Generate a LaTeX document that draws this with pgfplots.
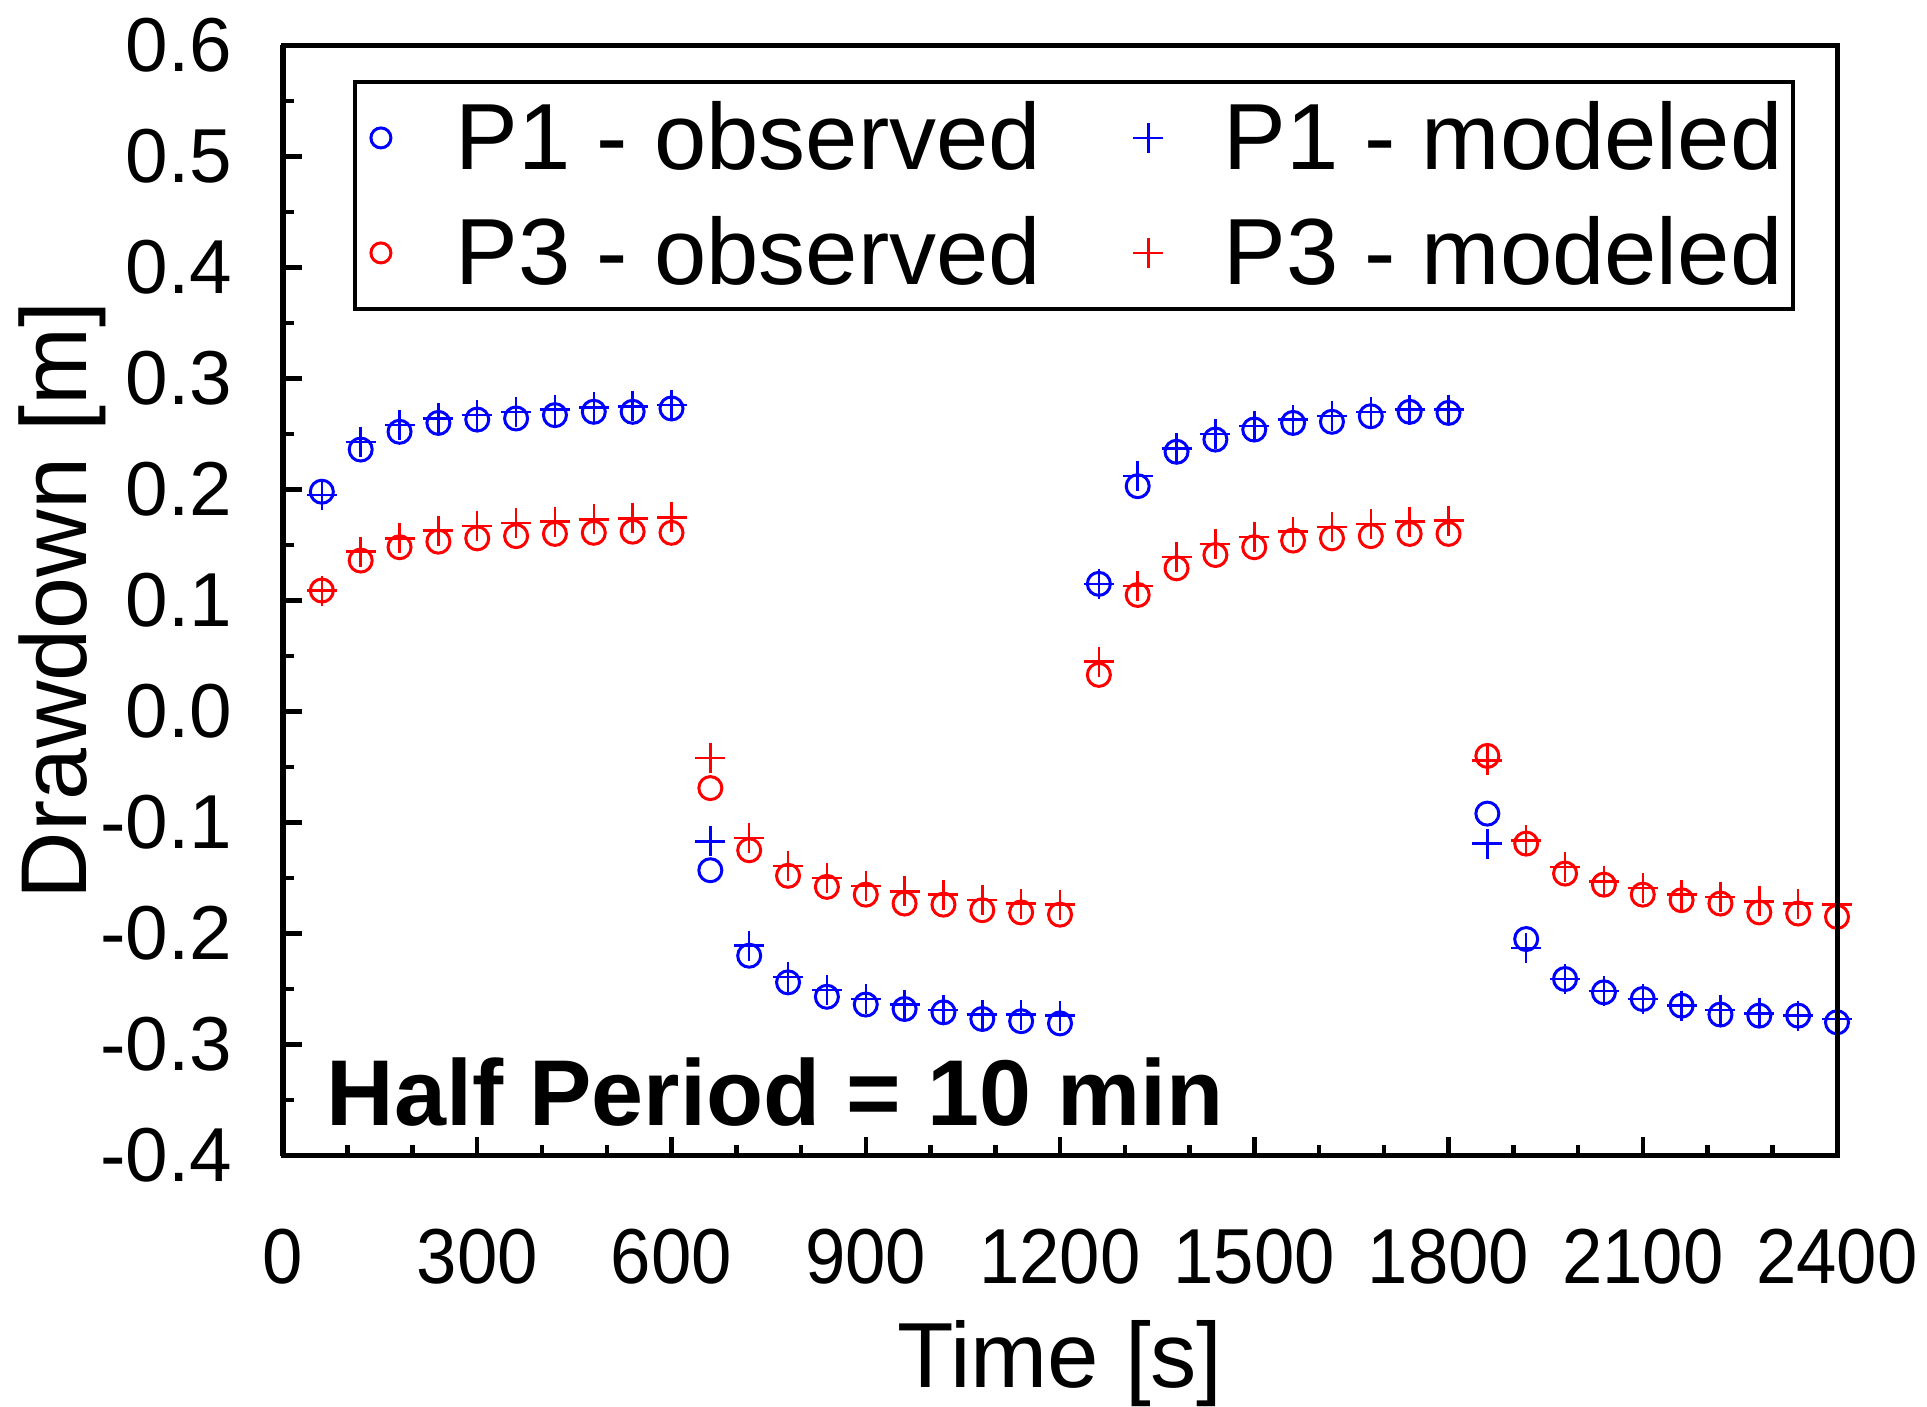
\documentclass[border=0pt]{standalone}
\usepackage{graphicx}
\usepackage{fontspec}
\setmainfont{Liberation Sans}
\usepackage{pgfplots}
\usepackage{pgfplotstable}
\pgfplotsset{compat=1.18}

\pgfplotstableread{
t p1o p1m p3o p3m
60 0.198 0.195 0.109 0.109
120 0.236 0.243 0.136 0.144
180 0.252 0.258 0.148 0.156
240 0.260 0.264 0.153 0.163
300 0.263 0.267 0.156 0.167
360 0.264 0.270 0.158 0.170
420 0.267 0.272 0.160 0.171
480 0.270 0.274 0.161 0.173
540 0.270 0.275 0.162 0.174
600 0.273 0.276 0.161 0.175
660 -0.143 -0.117 -0.069 -0.042
720 -0.220 -0.211 -0.125 -0.114
780 -0.244 -0.239 -0.148 -0.139
840 -0.257 -0.251 -0.158 -0.150
900 -0.264 -0.259 -0.165 -0.157
960 -0.268 -0.264 -0.173 -0.162
1020 -0.271 -0.269 -0.174 -0.165
1080 -0.277 -0.273 -0.179 -0.170
1140 -0.279 -0.273 -0.181 -0.173
1200 -0.281 -0.274 -0.183 -0.174
1260 0.115 0.115 0.033 0.045
1320 0.203 0.212 0.105 0.113
1380 0.234 0.237 0.129 0.139
1440 0.245 0.250 0.141 0.151
1500 0.254 0.257 0.148 0.157
1560 0.260 0.263 0.154 0.162
1620 0.261 0.266 0.156 0.166
1680 0.266 0.270 0.158 0.169
1740 0.270 0.272 0.160 0.171
1800 0.269 0.272 0.160 0.172
1860 -0.092 -0.119 -0.040 -0.044
1920 -0.205 -0.213 -0.119 -0.116
1980 -0.241 -0.241 -0.146 -0.140
2040 -0.253 -0.252 -0.156 -0.153
2100 -0.259 -0.259 -0.165 -0.159
2160 -0.265 -0.265 -0.170 -0.165
2220 -0.273 -0.269 -0.173 -0.167
2280 -0.274 -0.272 -0.181 -0.171
2340 -0.274 -0.274 -0.182 -0.173
2400 -0.280 -0.277 -0.185 -0.174
}\datatable

\newcommand{\xl}[1]{\scalebox{0.93}[1]{#1}}

\begin{document}
\begin{tikzpicture}
\begin{axis}[
  name=ax,
  scale only axis,
  width=310.8pt, height=222pt,
  xmin=0, xmax=2400, ymin=-0.4, ymax=0.6,
  clip=false,
  axis line style={line width=1pt},
  axis x line*=bottom, axis y line*=left,
  every outer x axis line/.append style={-},
  every outer y axis line/.append style={-},
  separate axis lines,
  tick align=inside,
  tick style={line width=0.9pt, black},
  major tick length=3.7pt, minor tick length=2.2pt,
  xtick={0,300,...,2400},
  xticklabels={\xl{0},\xl{300},\xl{600},\xl{900},\xl{1200},\xl{1500},\xl{1800},\xl{2100},\xl{2400}},
  minor x tick num=2,
  ytick={-0.4,-0.3,...,0.61},
  yticklabels={-0.4,-0.3,-0.2,-0.1,0.0,0.1,0.2,0.3,0.4,0.5,0.6},
  minor y tick num=1,
  xticklabel style={font=\fontsize{15.6}{18}\selectfont, anchor=base, yshift=-25.6pt},
  yticklabel style={font=\fontsize{15.3}{18}\selectfont, anchor=east, xshift=-6.7pt},
  xlabel={Time [s]},
  ylabel={Drawdown [m]},
  every axis x label/.style={at={(axis description cs:0.5,-0.209)}, anchor=base, font=\fontsize{18.5}{22}\selectfont},
  every axis y label/.style={at={(axis description cs:-0.142,0.5)}, rotate=90, anchor=center, font=\fontsize{18.7}{22}\selectfont},
  legend columns=2,
  legend style={
    at={(axis description cs:0.045,0.969)}, anchor=north west,
    draw=black, line width=0.8pt,
    font=\fontsize{18.8}{22}\selectfont,
    column sep=0pt,
    row sep=7.8pt,
    nodes={inner xsep=0pt, inner ysep=0pt, text height=14pt, text depth=1.2pt},
    /tikz/every even column/.append style={column sep=18.2pt},
    inner xsep=2.2pt, inner ysep=3.6pt,
  },
  legend cell align=left,
]
\addplot[only marks, blue, mark=o, mark size=2.3pt, mark options={line width=0.6pt},
  legend image code/.code={\path[draw=none,fill=none] (0pt,0) -- (18pt,0); \draw[blue, line width=0.6pt] (3pt,0) circle (2pt);}]
  table[x=t, y=p1o] {\datatable};
\addlegendentry{P1 - observed}
\addplot[only marks, blue, mark=+, mark size=3pt, mark options={line width=0.5pt},
  legend image code/.code={\path[draw=none,fill=none] (0pt,0) -- (18pt,0); \draw[blue, line width=0.5pt] (0pt,0) -- (6pt,0) (3pt,-3pt) -- (3pt,3pt);}]
  table[x=t, y=p1m] {\datatable};
\addlegendentry{P1 - modeled}
\addplot[only marks, red, mark=o, mark size=2.3pt, mark options={line width=0.6pt},
  legend image code/.code={\path[draw=none,fill=none] (0pt,0) -- (18pt,0); \draw[red, line width=0.6pt] (3pt,0) circle (2pt);}]
  table[x=t, y=p3o] {\datatable};
\addlegendentry{P3 - observed}
\addplot[only marks, red, mark=+, mark size=3pt, mark options={line width=0.5pt},
  legend image code/.code={\path[draw=none,fill=none] (0pt,0) -- (18pt,0); \draw[red, line width=0.5pt] (0pt,0) -- (6pt,0) (3pt,-3pt) -- (3pt,3pt);}]
  table[x=t, y=p3m] {\datatable};
\addlegendentry{P3 - modeled}
\node[anchor=base west, font=\fontsize{18.7}{22}\selectfont\bfseries, inner sep=0pt] at ([xshift=8.6pt, yshift=6pt]rel axis cs:0,0) {Half Period = 10 min};
\end{axis}
\draw[line width=1pt] (ax.south west) rectangle (ax.north east);
\pgfresetboundingbox
\path ([xshift=-56.6pt, yshift=-50.2pt]ax.south west) rectangle ([xshift=18pt, yshift=9.1pt]ax.north east);
\end{tikzpicture}
\end{document}
